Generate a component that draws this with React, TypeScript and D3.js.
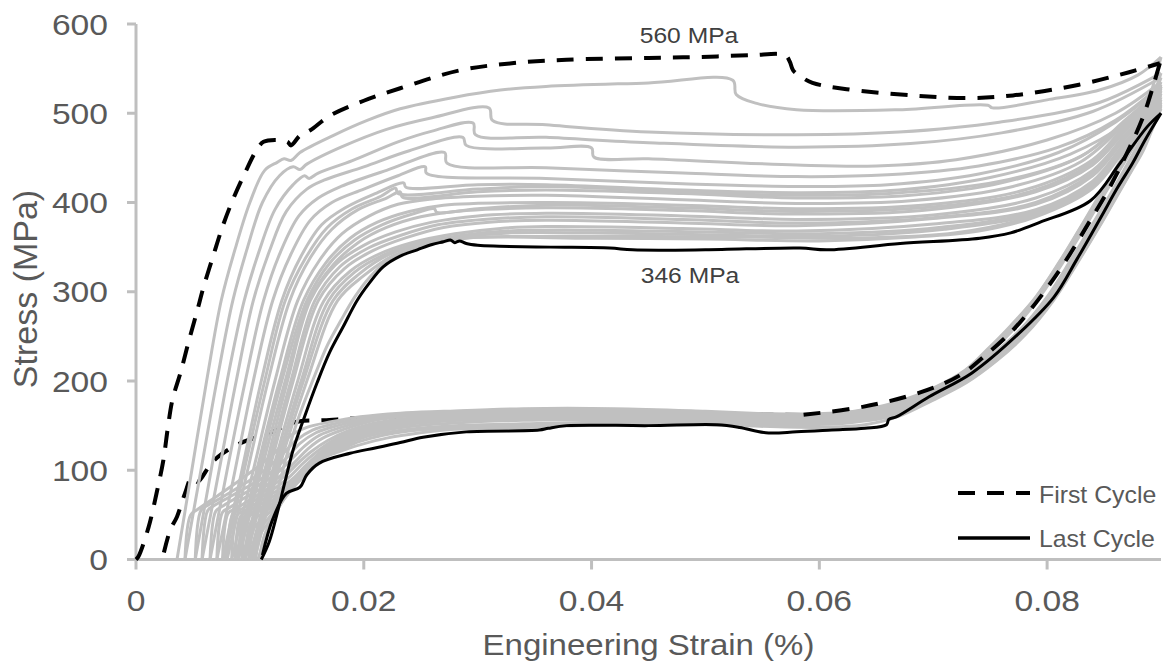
import React from 'react';
import * as d3 from 'd3';

type Pt = [number, number];

// ---------- axis ticks ----------
const xTickValues = [0, 0.02, 0.04, 0.06, 0.08];
const xTickLabels = ['0', '0.02', '0.04', '0.06', '0.08'];
const yTickValues = [0, 100, 200, 300, 400, 500, 600];
const yTickLabels = ['0', '100', '200', '300', '400', '500', '600'];
const xAxisTitle = 'Engineering Strain (%)';
const yAxisTitle = 'Stress (MPa)';
const legendLabels = ['First Cycle', 'Last Cycle'];
const annotationLabels = ['560 MPa', '346 MPa'];

// ---------- first cycle (dashed) ----------
const firstCycleLoading: Pt[] = [[0,0],[0.0002,3],[0.0011,36],[0.0018,74],[0.0024,111],[0.0028,148],[0.0032,179],[0.0039,209],[0.0046,243],[0.0054,280],[0.0059,304],[0.0068,341],[0.0076,373],[0.0085,403],[0.0096,434],[0.0106,459],[0.0112,468],[0.0124,470],[0.0133,468],[0.0136,464],[0.0144,475],[0.0153,481],[0.0170,497],[0.0200,514],[0.0232,528],[0.0284,548],[0.0330,556],[0.0378,560],[0.0450,562],[0.0495,563],[0.0540,565],[0.0570,565],[0.0574,558],[0.0577,548],[0.0585,540],[0.0594,534],[0.0624,527],[0.0682,520],[0.0729,517],[0.0770,520],[0.0828,532],[0.0872,546],[0.0899,556]];
const firstCycleUnloadSteep: Pt[] = [[0.0899,556],[0.0893,530],[0.0884,495],[0.0870,455],[0.0855,417],[0.0837,378],[0.0816,334],[0.0794,294],[0.0770,257],[0.0745,228],[0.0723,206],[0.0688,187],[0.0638,171],[0.0585,162]];
const firstCycleUnloadPlateau: Pt[] = [[0.0585,162],[0.0500,163],[0.0400,164],[0.0300,162],[0.0230,160],[0.0190,158],[0.0165,156],[0.0144,155],[0.0135,152],[0.0118,142],[0.0091,130],[0.0072,115],[0.0065,106],[0.0054,87],[0.0049,92],[0.0043,74],[0.0036,48],[0.0030,33],[0.0024,5]];

// ---------- last cycle (solid black) ----------
const lastCycleLoading: Pt[] = [[0.0110,0],[0.0117,20],[0.0124,52],[0.0131,88],[0.0138,123],[0.0148,160],[0.0159,198],[0.0170,232],[0.0182,261],[0.0194,290],[0.0205,310],[0.0217,328],[0.0232,340],[0.0247,347],[0.0260,353],[0.0270,356],[0.0276,358],[0.0280,355],[0.0284,357],[0.0290,354],[0.0300,352],[0.0319,351],[0.0364,350],[0.0416,349],[0.0436,347],[0.0500,347],[0.0583,349],[0.0607,347],[0.0671,354],[0.0741,360],[0.0768,366],[0.0794,378],[0.0838,402],[0.0864,444],[0.0888,485],[0.0900,500]];
const lastCycleUnloading: Pt[] = [[0.0900,500],[0.0886,470],[0.0875,444],[0.0862,417],[0.0847,383],[0.0826,336],[0.0806,294],[0.0775,253],[0.0734,209],[0.0696,182],[0.0668,160],[0.0661,157],[0.0659,151],[0.0640,147],[0.0611,145],[0.0580,143],[0.0553,142],[0.0530,148],[0.0510,151],[0.0450,150],[0.0378,150],[0.0362,147],[0.0354,145],[0.0290,143],[0.0252,137],[0.0232,131],[0.0210,125],[0.0188,119],[0.0161,108],[0.0150,95],[0.0144,81],[0.0132,74],[0.0120,45],[0.0111,5]];

// ---------- intermediate cycles (grey) : loading ----------
const cycle02Loading: Pt[] = [[0.0036,0],[0.0049,100],[0.0062,200],[0.0075,291],[0.0088,352],[0.0100,400],[0.0113,436],[0.0124,445],[0.0130,449],[0.0136,447],[0.0144,456],[0.0173,475],[0.0203,492],[0.0232,505],[0.0280,518],[0.0320,526],[0.0360,530],[0.0450,534],[0.0524,537],[0.0527,521],[0.0545,511],[0.0580,504],[0.0670,504],[0.0748,509],[0.0752,506],[0.0800,515],[0.0846,526],[0.0880,543],[0.0900,563]];
const cycle03Loading: Pt[] = [[0.0043,0],[0.0057,100],[0.0071,200],[0.0085,290],[0.0098,350],[0.0111,400],[0.0126,430],[0.0138,440],[0.0144,437],[0.0150,443],[0.0180,462],[0.0220,482],[0.0260,495],[0.0310,506],[0.0313,492],[0.0360,487],[0.0450,479],[0.0580,476],[0.0670,479],[0.0758,490],[0.0846,512],[0.0900,545]];
const cycle04Loading: Pt[] = [[0.0052,0],[0.0066,100],[0.0080,200],[0.0095,290],[0.0108,345],[0.0122,392],[0.0138,420],[0.0148,430],[0.0152,427],[0.0160,433],[0.0190,447],[0.0230,468],[0.0260,480],[0.0296,489],[0.0298,476],[0.0360,473],[0.0450,467],[0.0580,462],[0.0680,466],[0.0760,478],[0.0840,502],[0.0900,540]];
const cycle05Loading: Pt[] = [[0.0058,0],[0.0073,100],[0.0088,200],[0.0103,290],[0.0117,345],[0.0132,390],[0.0150,415],[0.0165,425],[0.0200,440],[0.0240,458],[0.0287,473],[0.0290,464],[0.0360,461],[0.0400,461],[0.0402,451],[0.0450,449],[0.0580,442],[0.0650,441],[0.0720,448],[0.0800,470],[0.0860,500],[0.0900,535]];
const cycle06Loading: Pt[] = [[0.0065,0],[0.0080,100],[0.0096,200],[0.0112,290],[0.0127,345],[0.0143,385],[0.0160,405],[0.0180,418],[0.0220,436],[0.0271,456],[0.0273,444],[0.0360,439],[0.0480,433],[0.0580,429],[0.0660,431],[0.0740,441],[0.0810,462],[0.0860,492],[0.0900,532]];
const cycle07Loading: Pt[] = [[0.0071,0],[0.0087,100],[0.0103,200],[0.0120,290],[0.0136,342],[0.0153,380],[0.0172,400],[0.0200,415],[0.0230,430],[0.0254,440],[0.0255,433],[0.0360,427],[0.0480,421],[0.0580,418],[0.0660,420],[0.0740,432],[0.0810,456],[0.0860,490],[0.0900,530]];
const cycle08Loading: Pt[] = [[0.0076,0],[0.0093,100],[0.0110,200],[0.0128,290],[0.0145,340],[0.0163,375],[0.0185,395],[0.0210,410],[0.0235,422],[0.0237,417],[0.0300,420],[0.0360,420],[0.0480,414],[0.0580,411],[0.0670,414],[0.0750,428],[0.0820,454],[0.0870,490],[0.0900,530]];
const cycle09Loading: Pt[] = [[0.0080,0],[0.0098,100],[0.0116,200],[0.0135,290],[0.0153,338],[0.0172,370],[0.0195,392],[0.0220,405],[0.0232,412],[0.0234,406],[0.0300,412],[0.0360,414],[0.0480,410],[0.0580,405],[0.0680,408],[0.0760,422],[0.0830,452],[0.0870,494],[0.0900,528]];
const cycle10Loading: Pt[] = [[0.0084,0],[0.0103,100],[0.0122,200],[0.0142,290],[0.0161,335],[0.0181,365],[0.0205,385],[0.0230,398],[0.0260,404],[0.0300,407],[0.0360,408],[0.0480,403],[0.0580,399],[0.0680,402],[0.0770,418],[0.0830,446],[0.0870,490],[0.0900,525]];
const cycle11Loading: Pt[] = [[0.0087,0],[0.0106,100],[0.0126,200],[0.0147,290],[0.0167,333],[0.0188,360],[0.0212,378],[0.0240,390],[0.0270,397],[0.0360,400],[0.0480,397],[0.0580,393],[0.0690,397],[0.0780,414],[0.0840,448],[0.0870,488],[0.0900,522]];
const cycle12Loading: Pt[] = [[0.0090,0],[0.0110,100],[0.0131,200],[0.0152,290],[0.0173,330],[0.0195,355],[0.0220,372],[0.0250,384],[0.0290,391],[0.0360,394],[0.0480,391],[0.0580,387],[0.0690,391],[0.0790,412],[0.0840,442],[0.0870,482],[0.0900,518]];
const cycle13Loading: Pt[] = [[0.0093,0],[0.0113,100],[0.0133,200],[0.0153,290],[0.0175,330],[0.0200,352],[0.0228,367],[0.0260,378],[0.0300,385],[0.0360,388],[0.0480,385],[0.0580,381],[0.0700,386],[0.0790,405],[0.0840,436],[0.0870,478],[0.0900,515]];
const cycle14Loading: Pt[] = [[0.0096,0],[0.0117,100],[0.0138,200],[0.0160,290],[0.0183,326],[0.0208,346],[0.0236,360],[0.0270,372],[0.0310,378],[0.0360,380],[0.0480,377],[0.0580,374],[0.0700,382],[0.0790,398],[0.0840,430],[0.0870,474],[0.0900,512]];
const cycle15Loading: Pt[] = [[0.0099,0],[0.0120,100],[0.0142,200],[0.0165,290],[0.0188,323],[0.0213,342],[0.0242,355],[0.0280,365],[0.0320,371],[0.0360,373],[0.0480,371],[0.0580,368],[0.0700,376],[0.0790,392],[0.0840,424],[0.0870,470],[0.0900,510]];
const cycle16Loading: Pt[] = [[0.0102,0],[0.0123,100],[0.0147,200],[0.0173,290],[0.0196,320],[0.0221,341],[0.0252,354],[0.0290,362],[0.0330,366],[0.0400,366],[0.0500,364],[0.0600,362],[0.0710,370],[0.0790,388],[0.0840,420],[0.0870,466],[0.0900,508]];
const cycle17Loading: Pt[] = [[0.0107,0],[0.0116,35],[0.0124,75],[0.0132,115],[0.0143,160],[0.0155,200],[0.0168,240],[0.0180,268],[0.0192,294],[0.0205,316],[0.0222,336],[0.0245,350],[0.0270,358],[0.0300,361],[0.0400,360],[0.0500,359],[0.0600,357],[0.0680,361],[0.0740,368],[0.0790,384],[0.0840,416],[0.0870,462],[0.0900,505]];
const cycleALoading: Pt[] = [[0.0078,0],[0.0095,100],[0.0113,200],[0.0131,290],[0.0149,338],[0.0168,372],[0.0190,393],[0.0215,407],[0.0228,416],[0.0230,410],[0.0300,415],[0.0360,418],[0.0480,412],[0.0580,408],[0.0670,411],[0.0760,424],[0.0830,452],[0.0870,492],[0.0900,527]];
const cycleBLoading: Pt[] = [[0.0089,0],[0.0108,100],[0.0128,200],[0.0150,290],[0.0170,332],[0.0192,358],[0.0216,375],[0.0245,388],[0.0262,393],[0.0264,389],[0.0300,393],[0.0360,397],[0.0480,394],[0.0580,390],[0.0690,394],[0.0785,412],[0.0840,445],[0.0870,485],[0.0900,520]];
const cycleCLoading: Pt[] = [[0.0095,0],[0.0115,100],[0.0136,200],[0.0157,290],[0.0179,328],[0.0204,349],[0.0232,363],[0.0265,375],[0.0305,381],[0.0360,384],[0.0480,381],[0.0580,377],[0.0700,383],[0.0790,400],[0.0840,433],[0.0870,476],[0.0900,513]];
const cycleDLoading: Pt[] = [[0.0101,0],[0.0122,100],[0.0145,200],[0.0169,290],[0.0192,322],[0.0217,341],[0.0247,354],[0.0285,363],[0.0325,368],[0.0400,369],[0.0500,367],[0.0600,365],[0.0705,372],[0.0790,390],[0.0840,422],[0.0870,468],[0.0900,509]];
const cycleELoading: Pt[] = [[0.0104,0],[0.0125,100],[0.0150,200],[0.0177,290],[0.0200,318],[0.0225,340],[0.0254,352],[0.0290,360],[0.0340,362],[0.0450,362],[0.0550,361],[0.0630,360],[0.0720,366],[0.0790,386],[0.0840,418],[0.0870,464],[0.0900,506]];

// ---------- intermediate cycles (grey) : unloading ----------
const cycle02Unloading: Pt[] = [[0.0900,563],[0.0894,535],[0.0884,497],[0.0868,455],[0.0850,417],[0.0831,376],[0.0811,334],[0.0790,294],[0.0768,262],[0.0748,236],[0.0728,212],[0.0700,192],[0.0670,177],[0.0640,168],[0.0600,162],[0.0560,163],[0.0500,166],[0.0420,169],[0.0340,169],[0.0270,166],[0.0232,164],[0.0197,160],[0.0170,154],[0.0150,148],[0.0135,138],[0.0122,120],[0.0105,102],[0.0088,86],[0.0070,70],[0.0054,56],[0.0048,50],[0.0043,0]];
const cycle03Unloading: Pt[] = [[0.0900,545],[0.0892,515],[0.0882,485],[0.0867,450],[0.0850,415],[0.0831,375],[0.0811,333],[0.0791,295],[0.0769,262],[0.0749,236],[0.0729,212],[0.0701,191],[0.0671,176],[0.0641,167],[0.0600,161],[0.0560,162],[0.0500,165],[0.0420,168],[0.0340,168],[0.0270,165],[0.0232,163],[0.0200,158],[0.0174,152],[0.0155,145],[0.0140,133],[0.0128,117],[0.0112,99],[0.0094,84],[0.0076,70],[0.0062,60],[0.0057,55],[0.0052,0]];
const cycle04Unloading: Pt[] = [[0.0900,540],[0.0891,508],[0.0880,476],[0.0866,445],[0.0851,415],[0.0832,375],[0.0812,333],[0.0792,295],[0.0770,261],[0.0750,235],[0.0730,211],[0.0702,190],[0.0672,175],[0.0642,166],[0.0600,160],[0.0560,161],[0.0500,164],[0.0420,167],[0.0340,167],[0.0270,164],[0.0232,162],[0.0202,157],[0.0177,150],[0.0158,142],[0.0144,130],[0.0133,115],[0.0118,97],[0.0100,83],[0.0082,70],[0.0068,60],[0.0063,55],[0.0058,0]];
const cycle05Unloading: Pt[] = [[0.0900,535],[0.0890,503],[0.0879,472],[0.0866,443],[0.0852,415],[0.0833,374],[0.0813,333],[0.0793,295],[0.0771,261],[0.0751,235],[0.0731,211],[0.0703,189],[0.0673,174],[0.0643,165],[0.0600,159],[0.0560,160],[0.0500,163],[0.0420,166],[0.0340,166],[0.0270,163],[0.0232,161],[0.0204,156],[0.0180,148],[0.0161,139],[0.0148,127],[0.0137,113],[0.0123,96],[0.0106,82],[0.0088,69],[0.0075,59],[0.0070,54],[0.0065,0]];
const cycle06Unloading: Pt[] = [[0.0900,532],[0.0890,500],[0.0879,470],[0.0866,441],[0.0853,415],[0.0834,374],[0.0814,333],[0.0794,295],[0.0772,260],[0.0752,234],[0.0732,210],[0.0704,188],[0.0674,173],[0.0644,164],[0.0600,158],[0.0560,159],[0.0500,162],[0.0420,165],[0.0340,165],[0.0270,162],[0.0232,160],[0.0206,155],[0.0183,146],[0.0164,136],[0.0151,124],[0.0141,111],[0.0128,95],[0.0112,81],[0.0094,68],[0.0082,58],[0.0076,53],[0.0071,0]];
const cycle07Unloading: Pt[] = [[0.0900,530],[0.0891,498],[0.0881,468],[0.0870,442],[0.0859,417],[0.0841,378],[0.0821,336],[0.0801,296],[0.0776,257],[0.0750,228],[0.0724,206],[0.0694,187],[0.0664,173],[0.0625,165],[0.0580,163],[0.0500,164],[0.0420,165],[0.0340,164],[0.0270,161],[0.0230,157],[0.0206,152],[0.0186,144],[0.0168,133],[0.0154,121],[0.0144,110],[0.0132,95],[0.0117,80],[0.0100,67],[0.0088,57],[0.0081,52],[0.0076,0]];
const cycle08Unloading: Pt[] = [[0.0900,530],[0.0891,496],[0.0881,466],[0.0870,440],[0.0860,417],[0.0842,378],[0.0822,336],[0.0802,296],[0.0777,257],[0.0751,228],[0.0725,205],[0.0695,186],[0.0665,172],[0.0625,164],[0.0580,162],[0.0500,163],[0.0420,164],[0.0340,163],[0.0270,160],[0.0228,156],[0.0204,150],[0.0186,142],[0.0170,131],[0.0157,119],[0.0146,107],[0.0136,94],[0.0121,79],[0.0104,66],[0.0092,56],[0.0085,51],[0.0080,0]];
const cycle09Unloading: Pt[] = [[0.0900,528],[0.0891,494],[0.0882,465],[0.0871,440],[0.0860,417],[0.0842,377],[0.0822,335],[0.0802,295],[0.0777,256],[0.0751,227],[0.0725,204],[0.0695,185],[0.0665,171],[0.0625,163],[0.0580,161],[0.0500,162],[0.0420,163],[0.0340,162],[0.0270,159],[0.0228,155],[0.0204,149],[0.0186,141],[0.0171,130],[0.0159,117],[0.0148,104],[0.0139,92],[0.0125,78],[0.0108,65],[0.0096,55],[0.0089,50],[0.0084,0]];
const cycle10Unloading: Pt[] = [[0.0900,525],[0.0891,491],[0.0882,463],[0.0871,439],[0.0861,417],[0.0843,377],[0.0823,335],[0.0803,295],[0.0778,256],[0.0752,227],[0.0726,204],[0.0696,184],[0.0666,170],[0.0625,162],[0.0580,160],[0.0500,161],[0.0420,162],[0.0340,161],[0.0270,158],[0.0230,154],[0.0206,148],[0.0188,140],[0.0173,129],[0.0161,117],[0.0150,104],[0.0141,91],[0.0128,77],[0.0112,64],[0.0099,54],[0.0092,49],[0.0087,0]];
const cycle11Unloading: Pt[] = [[0.0900,522],[0.0891,489],[0.0882,461],[0.0872,438],[0.0861,416],[0.0843,376],[0.0823,334],[0.0803,294],[0.0778,255],[0.0752,226],[0.0726,203],[0.0696,183],[0.0666,169],[0.0625,161],[0.0580,159],[0.0500,160],[0.0420,161],[0.0340,160],[0.0270,157],[0.0232,153],[0.0208,147],[0.0190,139],[0.0175,128],[0.0163,117],[0.0152,104],[0.0143,91],[0.0131,77],[0.0116,63],[0.0102,53],[0.0095,48],[0.0090,0]];
const cycle12Unloading: Pt[] = [[0.0900,518],[0.0891,486],[0.0882,459],[0.0872,437],[0.0862,416],[0.0844,376],[0.0824,334],[0.0804,294],[0.0779,255],[0.0753,226],[0.0727,203],[0.0697,183],[0.0667,168],[0.0625,160],[0.0580,158],[0.0500,159],[0.0420,160],[0.0340,159],[0.0270,156],[0.0234,152],[0.0210,146],[0.0192,138],[0.0177,127],[0.0165,117],[0.0154,105],[0.0145,92],[0.0133,78],[0.0120,63],[0.0105,52],[0.0098,47],[0.0093,0]];
const cycle13Unloading: Pt[] = [[0.0900,515],[0.0891,484],[0.0882,458],[0.0872,436],[0.0862,415],[0.0844,375],[0.0824,333],[0.0804,293],[0.0779,254],[0.0753,225],[0.0727,202],[0.0697,182],[0.0667,167],[0.0625,159],[0.0580,157],[0.0500,158],[0.0420,159],[0.0340,158],[0.0270,155],[0.0236,151],[0.0212,145],[0.0194,137],[0.0179,126],[0.0167,118],[0.0157,107],[0.0147,93],[0.0135,80],[0.0123,63],[0.0109,50],[0.0101,42],[0.0096,0]];
const cycle14Unloading: Pt[] = [[0.0900,512],[0.0892,486],[0.0883,460],[0.0873,437],[0.0863,415],[0.0845,375],[0.0825,333],[0.0805,293],[0.0780,254],[0.0754,225],[0.0728,201],[0.0698,181],[0.0668,166],[0.0625,157],[0.0580,155],[0.0500,156],[0.0420,157],[0.0340,156],[0.0280,153],[0.0240,149],[0.0212,143],[0.0192,135],[0.0177,125],[0.0166,117],[0.0156,106],[0.0147,93],[0.0137,82],[0.0125,64],[0.0112,46],[0.0104,36],[0.0099,0]];
const cycle15Unloading: Pt[] = [[0.0900,510],[0.0892,485],[0.0883,459],[0.0873,436],[0.0863,414],[0.0845,374],[0.0825,332],[0.0805,292],[0.0780,253],[0.0754,224],[0.0728,200],[0.0698,180],[0.0668,164],[0.0625,155],[0.0580,153],[0.0500,154],[0.0420,154],[0.0340,152],[0.0280,150],[0.0240,146],[0.0214,141],[0.0194,134],[0.0179,124],[0.0168,118],[0.0158,108],[0.0149,95],[0.0139,83],[0.0127,64],[0.0115,44],[0.0107,32],[0.0102,0]];
const cycle16Unloading: Pt[] = [[0.0900,508],[0.0892,483],[0.0883,458],[0.0874,436],[0.0864,414],[0.0846,374],[0.0826,332],[0.0806,292],[0.0781,253],[0.0755,223],[0.0729,199],[0.0699,179],[0.0669,162],[0.0625,153],[0.0580,151],[0.0500,152],[0.0420,152],[0.0340,150],[0.0280,148],[0.0240,144],[0.0216,139],[0.0196,132],[0.0181,124],[0.0170,118],[0.0160,110],[0.0151,98],[0.0141,85],[0.0129,66],[0.0118,44],[0.0110,30],[0.0105,0]];
const cycle17Unloading: Pt[] = [[0.0900,505],[0.0892,481],[0.0884,457],[0.0874,435],[0.0864,413],[0.0846,373],[0.0826,331],[0.0806,291],[0.0781,252],[0.0755,222],[0.0729,198],[0.0699,178],[0.0669,160],[0.0640,151],[0.0600,148],[0.0500,151],[0.0420,151],[0.0340,148],[0.0280,146],[0.0250,142],[0.0220,136],[0.0198,129],[0.0183,123],[0.0172,118],[0.0162,112],[0.0152,100],[0.0143,88],[0.0131,70],[0.0121,48],[0.0113,28],[0.0108,0]];

const greyLoadingCurves: Pt[][] = [cycle02Loading, cycle03Loading, cycle04Loading, cycle05Loading, cycle06Loading, cycle07Loading, cycle08Loading, cycleALoading, cycle09Loading, cycle10Loading, cycle11Loading, cycleBLoading, cycle12Loading, cycle13Loading, cycleCLoading, cycle14Loading, cycle15Loading, cycleDLoading, cycle16Loading, cycleELoading, cycle17Loading];
const greyUnloadingCurves: Pt[][] = [cycle02Unloading, cycle03Unloading, cycle04Unloading, cycle05Unloading, cycle06Unloading, cycle07Unloading, cycle08Unloading, cycle09Unloading, cycle10Unloading, cycle11Unloading, cycle12Unloading, cycle13Unloading, cycle14Unloading, cycle15Unloading, cycle16Unloading, cycle17Unloading];

const FONT = '"Liberation Sans", Arial, Helvetica, sans-serif';
const AXIS = '#bfbfbf';
const GREY = '#c0c0c0';
const TXT = '#595959';
const DASH = '17,12';

export default function App() {
  const W = 1165;
  const H = 668;
  const x = d3.scaleLinear().domain([0, 0.09]).range([136, 1161]);
  const y = d3.scaleLinear().domain([0, 600]).range([559.5, 24]);
  const line = d3
    .line<Pt>()
    .x((d) => x(d[0]))
    .y((d) => y(d[1]))
    .curve(d3.curveCatmullRom.alpha(0.5));

  const tickSX = 1.16;

  return (
    <svg
      width={W}
      height={H}
      viewBox={`0 0 ${W} ${H}`}
      style={{ position: 'absolute', left: 0, top: 0, display: 'block', background: '#fff' }}
    >
      <rect x={0} y={0} width={W} height={H} fill="#fff" />

      {/* axes */}
      <line x1={x(0)} x2={x(0)} y1={y(600)} y2={y(0)} stroke={AXIS} strokeWidth={3} />
      <line x1={x(0) - 9} x2={x(0.09)} y1={y(0)} y2={y(0)} stroke={AXIS} strokeWidth={3} />
      {yTickValues.map((v) => (
        <line key={'yt' + v} x1={x(0) - 9} x2={x(0)} y1={y(v)} y2={y(v)} stroke={AXIS} strokeWidth={3} />
      ))}
      {xTickValues.map((v) => (
        <line key={'xt' + v} x1={x(v)} x2={x(v)} y1={y(0)} y2={y(0) + 10} stroke={AXIS} strokeWidth={3} />
      ))}
      {yTickValues.map((v, i) => (
        <text
          key={'yl' + v}
          transform={`translate(108,${y(v) + 10.5}) scale(${tickSX},1)`}
          textAnchor="end"
          fontFamily={FONT}
          fontSize={29}
          fill={TXT}
        >
          {yTickLabels[i]}
        </text>
      ))}
      {xTickValues.map((v, i) => (
        <text
          key={'xl' + v}
          transform={`translate(${x(v)},611) scale(${tickSX},1)`}
          textAnchor="middle"
          fontFamily={FONT}
          fontSize={29}
          fill={TXT}
        >
          {xTickLabels[i]}
        </text>
      ))}
      <text
        transform={`translate(648.5,655) scale(1.1,1)`}
        textAnchor="middle"
        fontFamily={FONT}
        fontSize={30}
        fill={TXT}
      >
        {xAxisTitle}
      </text>
      <text
        transform={`translate(37,289) rotate(-90)`}
        textAnchor="middle"
        fontFamily={FONT}
        fontSize={34}
        fill={TXT}
      >
        {yAxisTitle}
      </text>

      {/* first-cycle plateau part lies beneath the grey band */}
      <path d={line(firstCycleUnloadPlateau) || ''} fill="none" stroke="#000" strokeWidth={4} strokeDasharray={DASH} />

      {/* grey intermediate cycles */}
      <g fill="none" stroke={GREY} strokeWidth={3} strokeLinejoin="round">
        {greyUnloadingCurves.map((c, i) => (
          <path key={'gu' + i} d={line(c) || ''} />
        ))}
        {greyLoadingCurves.map((c, i) => (
          <path key={'gl' + i} d={line(c) || ''} />
        ))}
      </g>

      {/* first cycle */}
      <path d={line(firstCycleLoading) || ''} fill="none" stroke="#000" strokeWidth={4} strokeDasharray={DASH} />
      <path d={line(firstCycleUnloadSteep) || ''} fill="none" stroke="#000" strokeWidth={4} strokeDasharray={DASH} />

      {/* last cycle */}
      <path d={line(lastCycleLoading) || ''} fill="none" stroke="#000" strokeWidth={3} strokeLinejoin="round" />
      <path d={line(lastCycleUnloading) || ''} fill="none" stroke="#000" strokeWidth={3} strokeLinejoin="round" />

      {/* annotations */}
      <text transform={`translate(689,43) scale(1.12,1)`} textAnchor="middle" fontFamily={FONT} fontSize={22} fill="#404040">
        {annotationLabels[0]}
      </text>
      <text transform={`translate(690,283) scale(1.12,1)`} textAnchor="middle" fontFamily={FONT} fontSize={22} fill="#404040">
        {annotationLabels[1]}
      </text>

      {/* legend */}
      <line x1={958} x2={1030} y1={493} y2={493} stroke="#000" strokeWidth={4} strokeDasharray={DASH} />
      <text transform={`translate(1039,503) scale(1.08,1)`} fontFamily={FONT} fontSize={23} fill={TXT}>
        {legendLabels[0]}
      </text>
      <line x1={958} x2={1030} y1={538} y2={538} stroke="#000" strokeWidth={3.5} />
      <text transform={`translate(1039,547) scale(1.08,1)`} fontFamily={FONT} fontSize={23} fill={TXT}>
        {legendLabels[1]}
      </text>
    </svg>
  );
}
